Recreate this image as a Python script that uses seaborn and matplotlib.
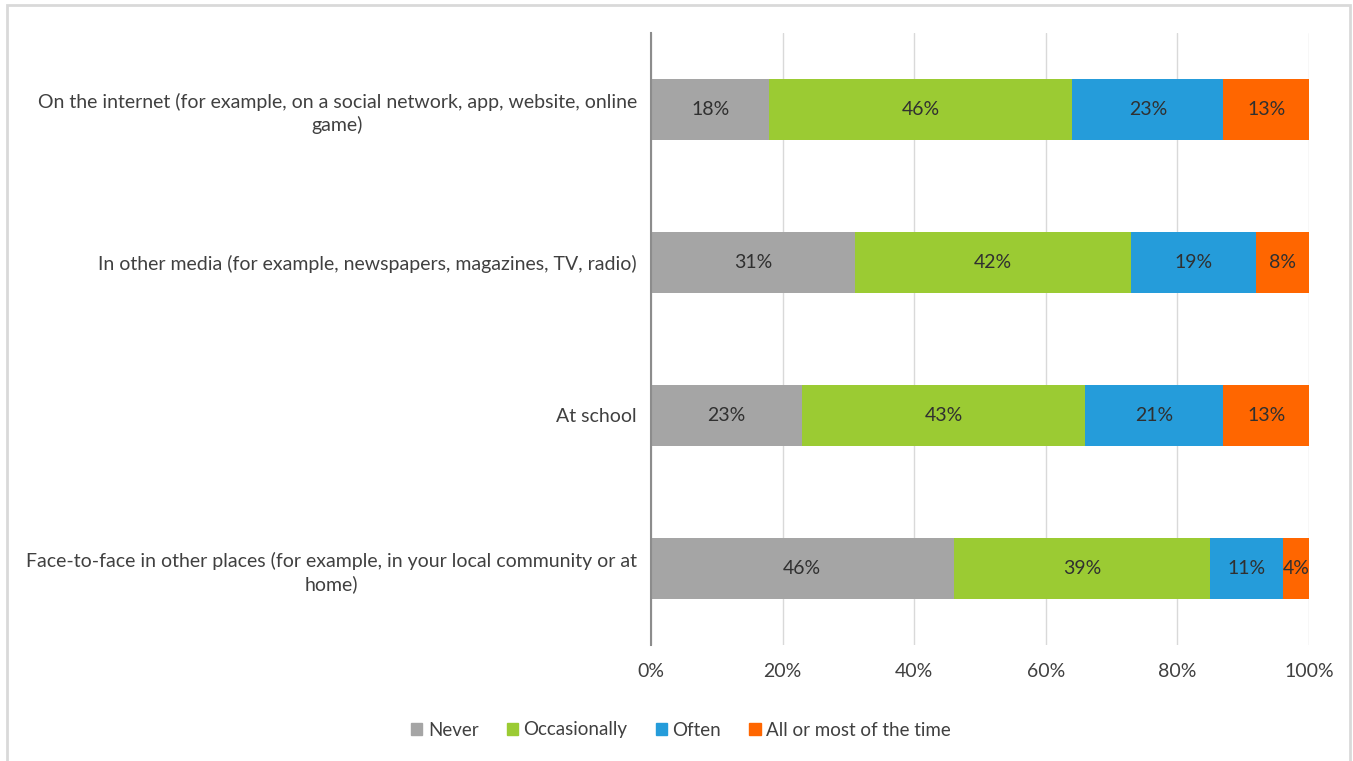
import matplotlib
matplotlib.use("Agg")
import matplotlib.pyplot as plt
import matplotlib.patches as mpatches
import numpy as np
import pandas as pd
import seaborn as sns

# Survey responses: where respondents encounter the issue, and how often
categories = [
    "On the internet (for example, on a social network, app, website, online\ngame)",
    "In other media (for example, newspapers, magazines, TV, radio)",
    "At school",
    "Face-to-face in other places (for example, in your local community or at\nhome)",
]
series_names = ["Never", "Occasionally", "Often", "All or most of the time"]
never = [18, 31, 23, 46]
occasionally = [46, 42, 43, 39]
often = [23, 19, 21, 11]
all_or_most = [13, 8, 13, 4]
tick_labels = ["0%", "20%", "40%", "60%", "80%", "100%"]

colors = ["#A5A5A5", "#9BCB33", "#259CDA", "#FF6600"]

sns.set_theme(style="white")
plt.rcParams["font.family"] = ["Lato", "DejaVu Sans"]

FS = 14

values = np.array([never, occasionally, often, all_or_most], dtype=float)
cum = np.cumsum(values, axis=0)

fig = plt.figure(figsize=(13.53, 7.61), dpi=100)
ax = fig.add_axes([651 / 1353, 1 - 645 / 761, (1309 - 651) / 1353, (645 - 33) / 761])

# Stacked bars: draw cumulative totals from the outermost segment inward
for i in range(len(series_names) - 1, -1, -1):
    df = pd.DataFrame({"category": categories, "total": cum[i]})
    sns.barplot(data=df, x="total", y="category", color=colors[i],
                width=0.4, saturation=1, ax=ax, zorder=3, linewidth=0)

# Segment value labels
for i in range(len(series_names)):
    for j in range(len(categories)):
        v = values[i, j]
        ax.text(cum[i, j] - v / 2, j, f"{int(v)}%", ha="center", va="center",
                fontsize=FS, color="#303030", zorder=5)

ax.set_xlim(0, 100)
ax.set_ylim(3.5, -0.5)
ax.set_xticks(np.linspace(0, 100, len(tick_labels)))
ax.set_xticklabels(tick_labels, fontsize=FS, color="#404040")
ax.tick_params(axis="x", length=0, pad=13)
ax.tick_params(axis="y", length=0, pad=10)
for lbl in ax.get_yticklabels():
    lbl.set_fontsize(FS)
    lbl.set_color("#404040")
    lbl.set_multialignment("center")
    lbl.set_linespacing(1.35)
ax.set_xlabel("")
ax.set_ylabel("")
ax.xaxis.grid(True, color="#D9D9D9", linewidth=1, zorder=0)
ax.set_axisbelow(True)
for side in ["top", "right", "bottom"]:
    ax.spines[side].set_visible(False)
ax.spines["left"].set_color("#8C8C8C")
ax.spines["left"].set_linewidth(1.5)
ax.spines["left"].set_zorder(6)

handles = [mpatches.Patch(color=c, label=n) for c, n in zip(colors, series_names)]
fig.legend(handles=handles, loc="center", bbox_to_anchor=(681 / 1353, 1 - 730 / 761),
           ncol=4, frameon=False, fontsize=13.5, handlelength=0.6, handleheight=0.6,
           handletextpad=0.3, columnspacing=1.5, labelcolor="#404040")

# Light chart-area border
fig.patches.append(mpatches.Rectangle((7 / 1353, -0.01), (1350 - 7) / 1353, 1 - 5 / 761 + 0.01,
                                      transform=fig.transFigure, fill=False,
                                      edgecolor="#D9D9D9", linewidth=2))

fig.savefig("out.png", dpi=100, facecolor="white")
